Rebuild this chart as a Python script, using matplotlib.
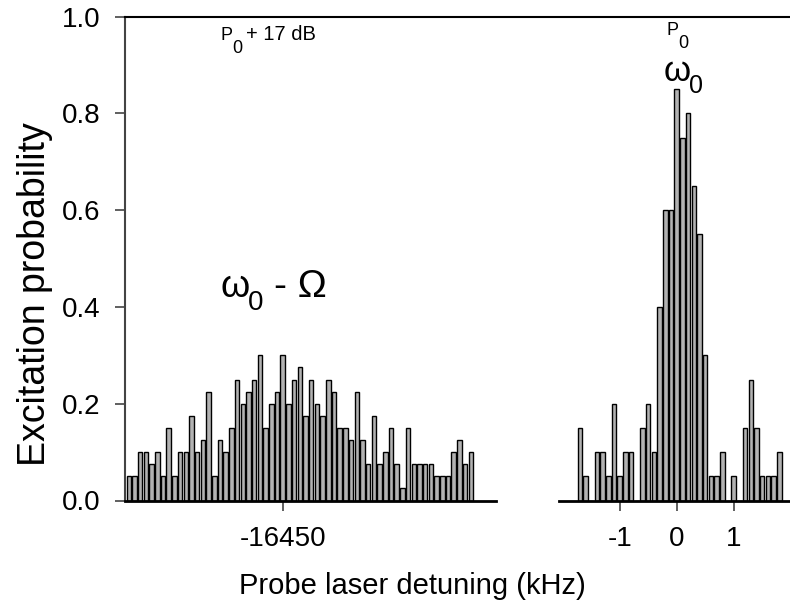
import numpy as np
import matplotlib
matplotlib.use('Agg')
import matplotlib.pyplot as plt
from matplotlib.lines import Line2D

plt.rcParams.update({
    'font.family': ['Liberation Sans', 'DejaVu Sans'],
})

# sideband scan (kHz), first bin and step
side_start = -16452.7
scan_step = 0.1
side_prob = [0.05, 0.05, 0.1, 0.1, 0.075, 0.1, 0.05, 0.15, 0.05, 0.1,
             0.1, 0.175, 0.1, 0.125, 0.225, 0.05, 0.125, 0.1, 0.15, 0.25,
             0.2, 0.225, 0.25, 0.3, 0.15, 0.2, 0.225, 0.3, 0.2, 0.25,
             0.275, 0.175, 0.25, 0.2, 0.175, 0.25, 0.225, 0.15, 0.15, 0.125,
             0.225, 0.125, 0.075, 0.175, 0.075, 0.1, 0.15, 0.075, 0.025, 0.15,
             0.075, 0.075, 0.075, 0.075, 0.05, 0.05, 0.05, 0.1, 0.125, 0.075,
             0.1]

# carrier scan (kHz)
carrier_det = [-1.7, -1.6, -1.5, -1.4, -1.3, -1.2, -1.1, -1.0, -0.9, -0.8,
               -0.7, -0.6, -0.5, -0.4, -0.3, -0.2, -0.1, 0.0, 0.1, 0.2,
               0.3, 0.4, 0.5, 0.6, 0.7, 0.8, 0.9, 1.0, 1.1, 1.2,
               1.3, 1.4, 1.5, 1.6, 1.7, 1.8]
carrier_prob = [0.15, 0.05, 0.0, 0.1, 0.1, 0.05, 0.2, 0.05, 0.1, 0.1,
                0.0, 0.15, 0.2, 0.1, 0.4, 0.6, 0.6, 0.85, 0.75, 0.8,
                0.65, 0.55, 0.3, 0.05, 0.05, 0.1, 0.0, 0.05, 0.0, 0.15,
                0.25, 0.15, 0.05, 0.05, 0.05, 0.1]

side_det = side_start + scan_step * np.arange(len(side_prob))

W, H = 790, 607
fig = plt.figure(figsize=(W / 100, H / 100), dpi=100)


def ftext(x, y, s, **kw):
    # place text using pixel coords measured from the top-left corner
    return fig.text(x / W, 1 - y / H, s, **kw)


y0, y1 = 500.5, 16.7
axl = fig.add_axes([125 / W, (H - y0) / H, (496 - 125) / W, (y0 - y1) / H])
axr = fig.add_axes([559.3 / W, (H - y0) / H, (789 - 559.3) / W, (y0 - y1) / H])

bar_kw = dict(width=0.078, color='#b2b2b2', edgecolor='black', linewidth=1.0)
axl.bar(side_det, side_prob, **bar_kw)
axr.bar(carrier_det, carrier_prob, **bar_kw)

axl.set_xlim(-16452.767, -16446.258)
axr.set_xlim(-2.06, 1.97)
for ax in (axl, axr):
    ax.set_ylim(0, 1.0)
    ax.spines['top'].set_visible(False)
    ax.spines['right'].set_visible(False)
    ax.spines['bottom'].set_linewidth(2.0)
    ax.spines['bottom'].set_color('black')
    ax.tick_params(axis='x', direction='out', length=7, width=1.2,
                   color='#444444', labelsize=20, pad=11)

axl.spines['left'].set_linewidth(1.5)
axl.spines['left'].set_color('#444444')
axl.set_xticks([-16450])
axl.set_xticklabels(['-16450'])
axl.set_yticks([0, 0.2, 0.4, 0.6, 0.8, 1.0])
axl.set_yticklabels(['0.0', '0.2', '0.4', '0.6', '0.8', '1.0'])
axl.tick_params(axis='y', direction='out', length=7, width=1.2,
                color='#444444', labelsize=20, pad=11)

axr.spines['left'].set_visible(False)
axr.set_yticks([])
axr.set_xticks([-1, 0, 1])
axr.set_xticklabels(['-1', '0', '1'])

# continuous top frame line across both panels
fig.add_artist(Line2D([125 / W, 1.0], [(H - y1) / H, (H - y1) / H],
                      transform=fig.transFigure, color='black', linewidth=1.5))

ftext(412, 586, 'Probe laser detuning (kHz)', fontsize=21,
      ha='center', va='center')
ftext(35, 294, 'Excitation probability', fontsize=27,
      ha='center', va='center', rotation=90)

# power labels, P with a lowered 0
ftext(221, 40, 'P', fontsize=13, ha='left', va='baseline')
ftext(232, 53, '0', fontsize=13, ha='left', va='baseline')
ftext(246, 40, '+ 17 dB', fontsize=14.5, ha='left', va='baseline')
ftext(667, 35, 'P', fontsize=13, ha='left', va='baseline')
ftext(678, 48, '0', fontsize=13, ha='left', va='baseline')

# resonance labels
ftext(664, 81, '\u03c9', fontsize=25, ha='left', va='baseline')
ftext(689, 93, '0', fontsize=18, ha='left', va='baseline')
ftext(220, 297, '\u03c9', fontsize=27, ha='left', va='baseline')
ftext(248, 310, '0', fontsize=20, ha='left', va='baseline')
ftext(274, 297, '- \u03a9', fontsize=28, ha='left', va='baseline')

fig.savefig('out.png', dpi=100)
